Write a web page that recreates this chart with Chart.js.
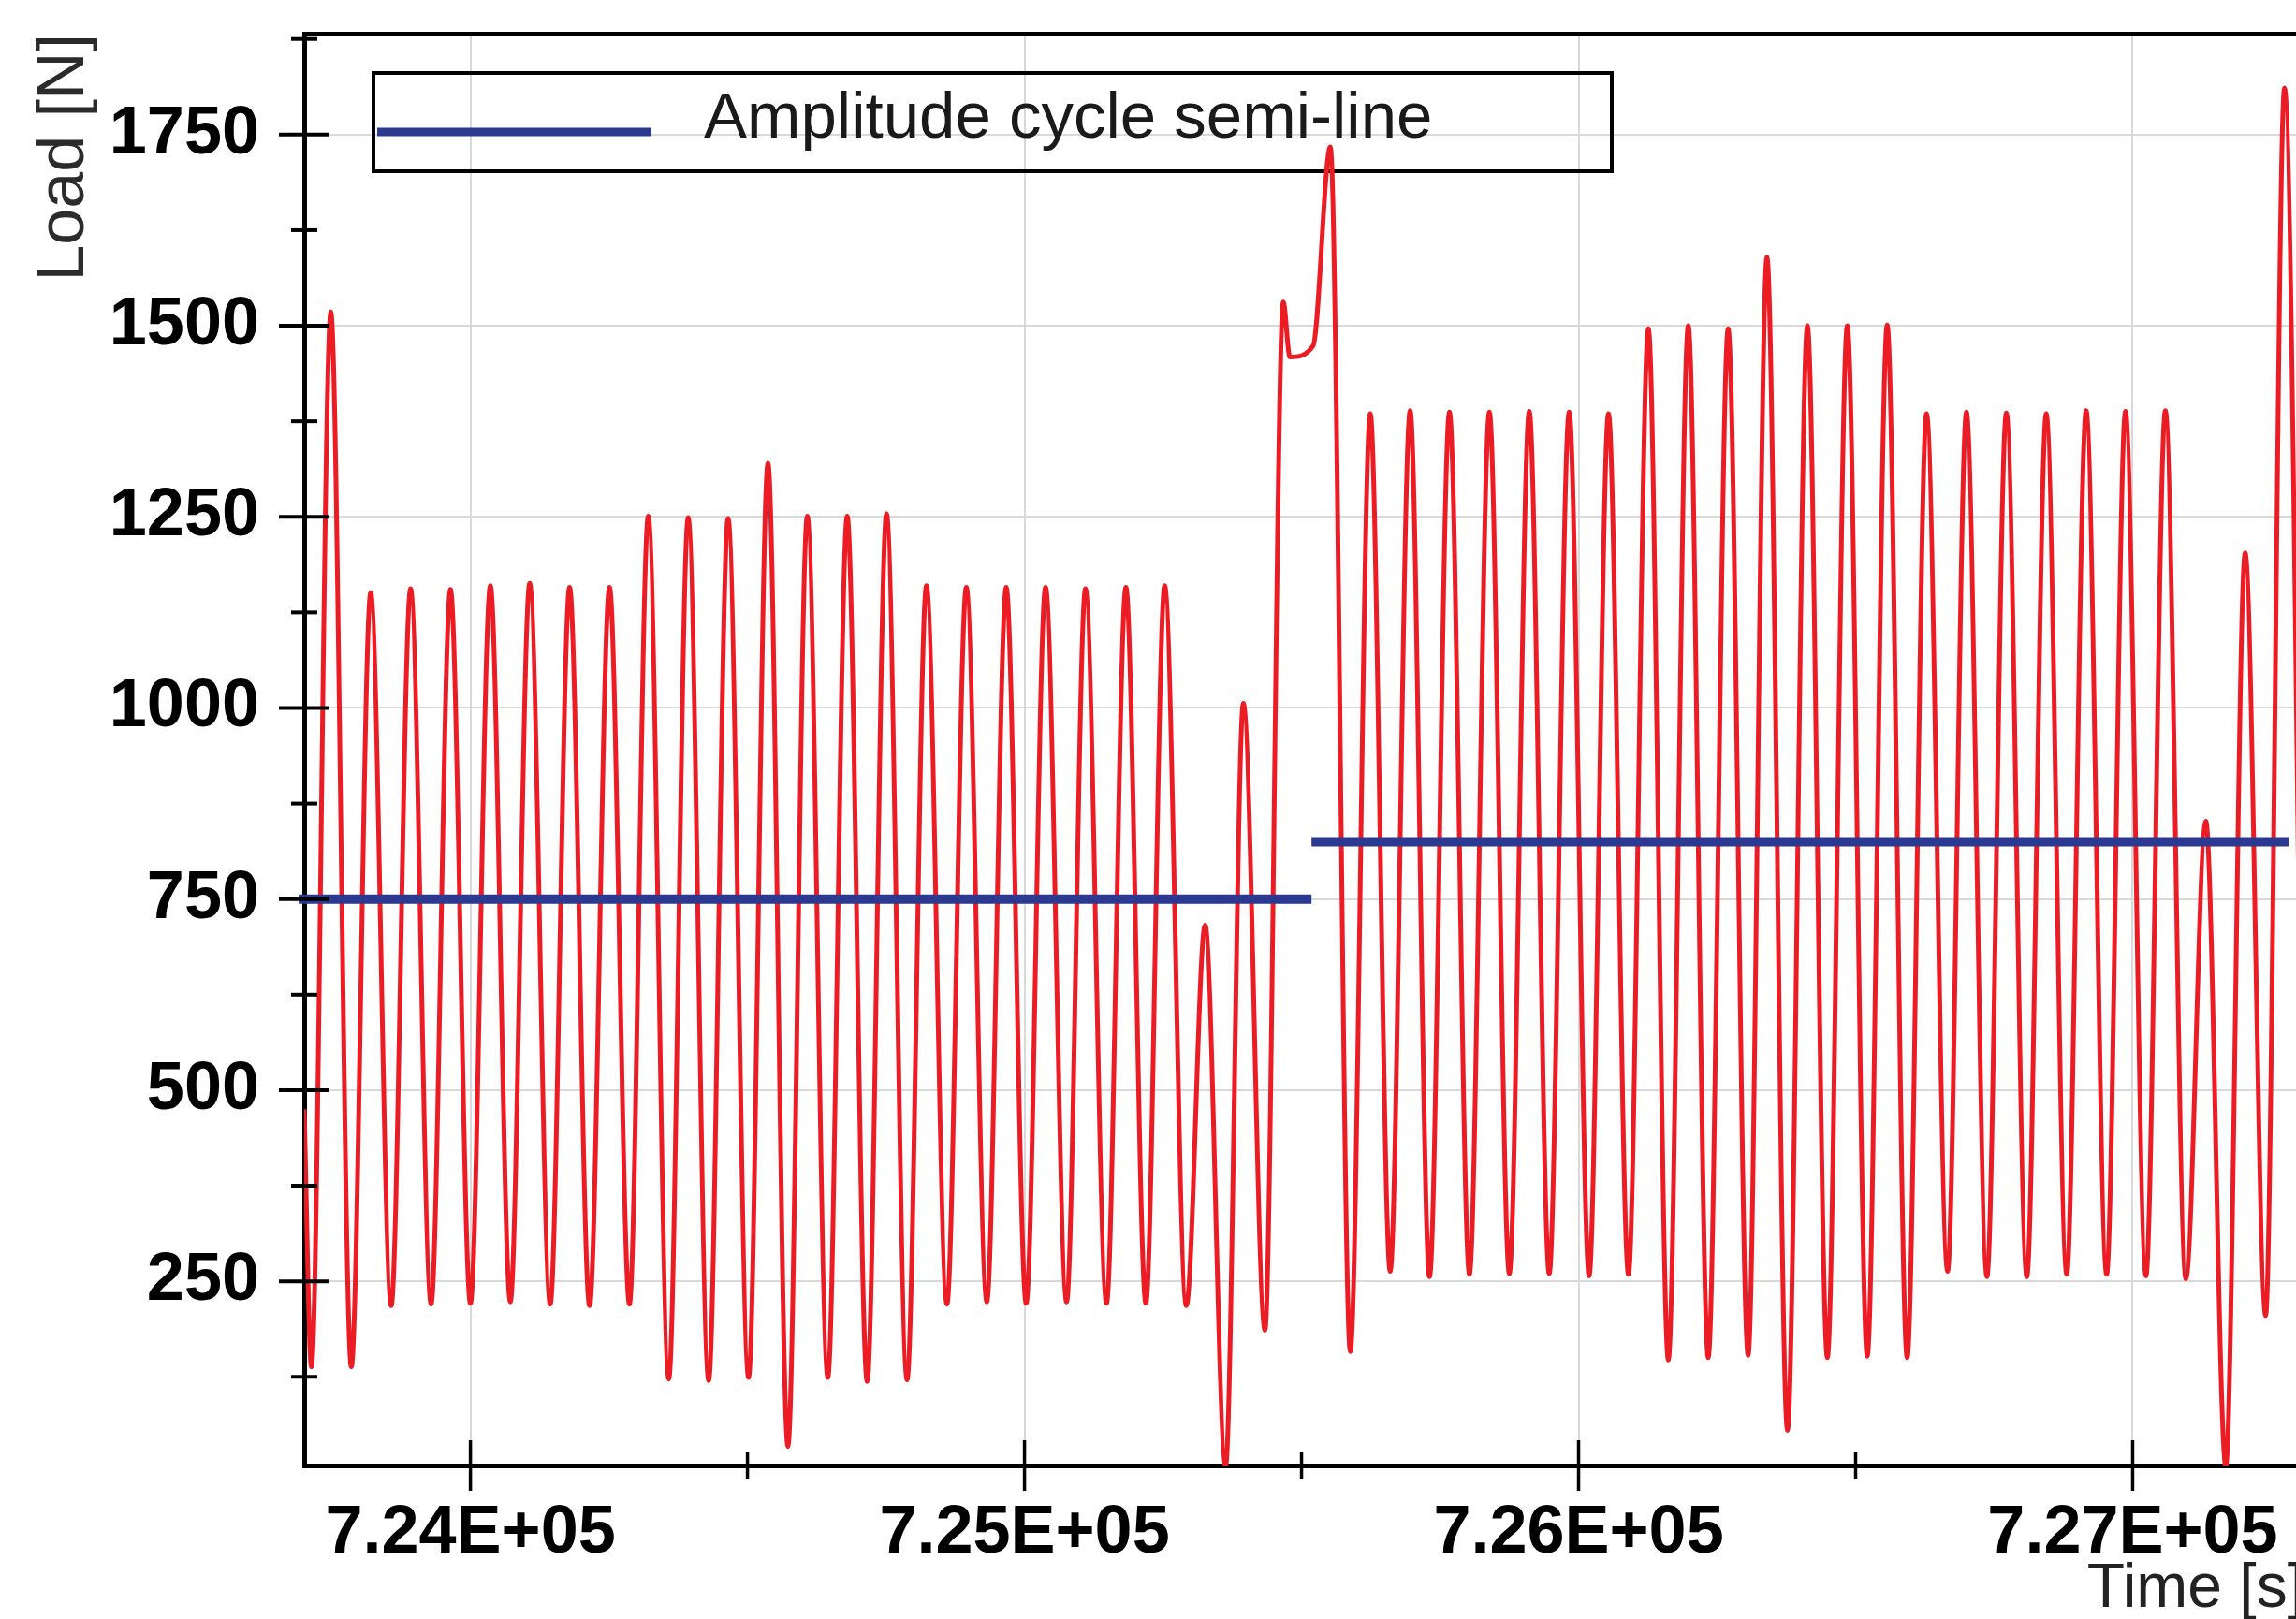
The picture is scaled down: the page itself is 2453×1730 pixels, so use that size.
<!DOCTYPE html>
<html>
<head>
<meta charset="utf-8">
<script src="https://cdn.jsdelivr.net/npm/chart.js@4.4.1/dist/chart.umd.min.js"></script>
<style>
  html, body { margin: 0; padding: 0; background: #fff; overflow: hidden; }
  #wrap { width: 2462px; height: 1760px; }
</style>
</head>
<body>
<div id="wrap"><canvas id="chart" width="2462" height="1760"></canvas></div>
<script>
// ─── Data (peaks / valleys of the load signal) ───────────────────────────────
const timeS = [
  723700, 723713, 723748, 723785, 723820, 723857, 723892, 723929, 723964, 724000,
  724036, 724072, 724107, 724144, 724179, 724215, 724251, 724287, 724321, 724358,
  724393, 724430, 724465, 724502, 724537, 724573, 724608, 724645, 724680, 724716,
  724751, 724788, 724823, 724860, 724895, 724932, 724967, 725003, 725038, 725076,
  725110, 725148, 725183, 725219, 725253, 725292, 725326, 725363, 725395, 725434,
  725467, 725479, 725521, 725552, 725588, 725624, 725660, 725696, 725731, 725767,
  725803, 725839, 725875, 725911, 725947, 725983, 726019, 726054, 726090, 726126,
  726162, 726198, 726234, 726270, 726306, 726340, 726377, 726413, 726449, 726485,
  726521, 726557, 726593, 726628, 726666, 726700, 726737, 726772, 726809, 726844,
  726881, 726916, 726953, 726987, 727024, 727059, 727096, 727132, 727168, 727203,
  727240, 727274, 727310
];
const loadN = [
  475, 138, 1518, 138, 1151, 218, 1156, 220, 1155, 221,
  1160, 223, 1163, 220, 1158, 218, 1158, 220, 1251, 122,
  1249, 120, 1248, 124, 1320, 34, 1251, 124, 1251, 119,
  1254, 121, 1160, 220, 1158, 223, 1158, 221, 1158, 223,
  1156, 221, 1158, 221, 1160, 218, 716, 8, 1006, 186,
  1531, 1459, 1474, 1734, 158, 1385, 263, 1389, 256, 1387,
  259, 1387, 260, 1388, 260, 1387, 257, 1385, 259, 1496,
  147, 1500, 150, 1496, 153, 1590, 55, 1500, 150, 1500,
  152, 1501, 150, 1385, 263, 1387, 256, 1386, 256, 1385,
  259, 1389, 259, 1388, 257, 1389, 253, 852, 8, 1203,
  205, 1811, 205
];

// semi-line of the amplitude cycle (two levels, gap between them)
const meanTime = [723690, 725518, 725518, 725518, 727282];
const meanLoad = [750, 750, null, 825, 825];

const xTicks      = [724000, 725000, 726000, 727000];
const xMinorTicks = [724500, 725500, 726500];
const yTicks      = [250, 500, 750, 1000, 1250, 1500, 1750];
const yMinorTicks = [125, 375, 625, 875, 1125, 1375, 1625, 1875];

const FONT = 'Liberation Sans, Arial, sans-serif';
const RED  = '#ec1c24';
const BLUE = '#2b3990';

// ─── Tick marks crossing the axes + top frame line ──────────────────────────
const axisMarks = {
  id: 'axisMarks',
  afterDraw(chart) {
    const { ctx, chartArea: a, scales: { x, y } } = chart;
    ctx.save();
    ctx.strokeStyle = '#000';
    ctx.lineWidth = 4;
    const seg = (x1, y1, x2, y2) => { ctx.beginPath(); ctx.moveTo(x1, y1); ctx.lineTo(x2, y2); ctx.stroke(); };

    seg(a.left, a.top, a.right, a.top);

    yTicks.forEach(v => { const p = y.getPixelForValue(v); seg(a.left - 27, p, a.left + 27, p); });
    yMinorTicks.forEach(v => { const p = y.getPixelForValue(v); seg(a.left - 14, p, a.left + 14, p); });

    ctx.lineWidth = 3.5;
    xTicks.forEach(v => { const p = x.getPixelForValue(v); seg(p, a.bottom - 27, p, a.bottom + 27); });
    xMinorTicks.forEach(v => { const p = x.getPixelForValue(v); seg(p, a.bottom - 14, p, a.bottom + 14); });
    ctx.restore();
  }
};

// ─── Boxed legend (only the semi-line is listed) ────────────────────────────
const boxLegend = {
  id: 'boxLegend',
  beforeDatasetsDraw(chart) {
    const ds = chart.data.datasets[0];
    const { ctx } = chart;
    ctx.save();
    ctx.strokeStyle = '#000';
    ctx.lineWidth = 4;
    ctx.strokeRect(399, 78, 1323, 105);
    ctx.strokeStyle = ds.borderColor;
    ctx.lineWidth = 9;
    ctx.beginPath(); ctx.moveTo(403, 141); ctx.lineTo(696, 141); ctx.stroke();
    ctx.fillStyle = '#1a1a1a';
    ctx.font = '69px ' + FONT;
    ctx.textBaseline = 'alphabetic';
    ctx.textAlign = 'left';
    ctx.fillText(ds.label, 752, 147);
    ctx.restore();
  }
};

const tickFont = { family: FONT, size: 72, weight: 'bold', lineHeight: 1.2 };
const gridOpts = { color: '#d9d9d9', lineWidth: 2, drawTicks: false };

new Chart(document.getElementById('chart').getContext('2d'), {
  type: 'line',
  data: {
    datasets: [
      {
        label: 'Amplitude cycle semi-line',
        data: meanTime.map((t, i) => ({ x: t, y: meanLoad[i] })),
        borderColor: BLUE, borderWidth: 10, borderCapStyle: 'butt',
        pointRadius: 0, tension: 0, spanGaps: false, clip: false, order: 0
      },
      {
        label: 'Load',
        data: timeS.map((t, i) => ({ x: t, y: loadN[i] })),
        borderColor: RED, borderWidth: 5,
        pointRadius: 0, tension: 0.4, cubicInterpolationMode: 'monotone', order: 1
      }
    ]
  },
  options: {
    responsive: false, animation: false, devicePixelRatio: 1,
    layout: { padding: { top: 36, right: 0, bottom: 0, left: 0 } },
    plugins: { legend: { display: false }, tooltip: { enabled: false } },
    scales: {
      x: {
        type: 'linear', min: 723700, max: 727310,
        afterBuildTicks: s => { s.ticks = xTicks.map(v => ({ value: v })); },
        afterFit: s => { s.height = 194; s.paddingLeft = 0; s.paddingRight = 0; },
        ticks: { autoSkip: false, maxRotation: 0, padding: 30, color: '#000', font: tickFont,
                 callback: v => (v / 1e5).toFixed(2) + 'E+05' },
        grid: gridOpts,
        border: { display: true, color: '#000', width: 5 },
        title: { display: true, text: 'Time [s]', align: 'end', color: '#222',
                 font: { family: FONT, size: 66, lineHeight: 1.2 }, padding: { top: 0, bottom: 22 } }
      },
      y: {
        type: 'linear', min: 9, max: 1882,
        afterBuildTicks: s => { s.ticks = yTicks.map(v => ({ value: v })); },
        afterFit: s => { s.width = 325; s.paddingTop = 0; s.paddingBottom = 0; },
        ticks: { autoSkip: false, padding: 48, color: '#000', font: tickFont, callback: v => String(v) },
        grid: gridOpts,
        border: { display: true, color: '#000', width: 5 },
        title: { display: true, text: 'Load [N]', align: 'end', color: '#2b2b2b',
                 font: { family: FONT, size: 70, lineHeight: 1.2 }, padding: { top: 28, bottom: 0 } }
      }
    }
  },
  plugins: [boxLegend, axisMarks]
});
</script>
</body>
</html>
